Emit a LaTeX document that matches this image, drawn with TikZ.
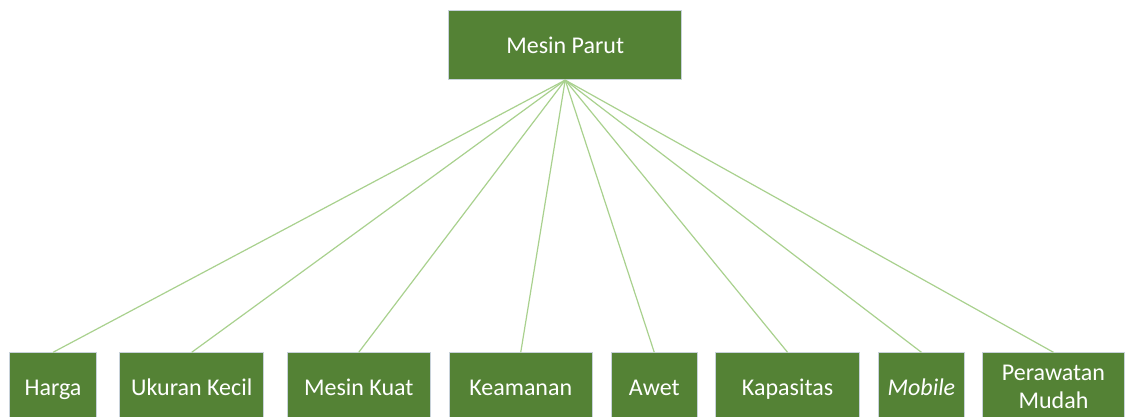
\documentclass[tikz,border=0pt]{standalone}
\usepackage{fontspec}
\setmainfont{Carlito}
\definecolor{boxgreen}{HTML}{548235}
\definecolor{linegreen}{HTML}{A9D18E}
\definecolor{boxedge}{HTML}{C8D2DA}
\begin{document}
\begin{tikzpicture}[x=1pt,y=-1pt,
  box/.style={draw=boxedge,line width=0.8pt,fill=boxgreen,text=white,
    inner sep=0pt,font=\fontsize{24}{28}\selectfont,align=center,anchor=north west,
    minimum height=69pt},
  one/.style={text height=16pt,text depth=0pt},
  link/.style={draw=linegreen,line width=1.2pt}]
\useasboundingbox (0,0) rectangle (1126,417);
\clip (0,0) rectangle (1126,417);
\fill[white] (0,0) rectangle (1126,417);
\node[box,one,minimum width=233pt] (top) at (448.3,10.3) {Mesin Parut};
\node[box,one,minimum width=86.7pt] (b1) at (9.3,352.3) {Harga};
\node[box,one,minimum width=144pt] (b2) at (119.3,352.3) {Ukuran Kecil};
\node[box,one,minimum width=143.3pt] (b3) at (286.7,352.3) {Mesin Kuat};
\node[box,one,minimum width=143.3pt] (b4) at (448.7,352.3) {Keamanan};
\node[box,one,minimum width=86.3pt] (b5) at (610.7,352.3) {Awet};
\node[box,one,minimum width=143.7pt] (b6) at (715.3,352.3) {Kapasitas};
\node[box,one,minimum width=86.6pt] (b7) at (877.7,352.3) {\itshape Mobile};
\node[box,minimum width=141.5pt] (b8) at (982.3,352.3) {Perawatan\\Mudah};
\foreach \n in {b1,b2,b3,b4,b5,b6,b7,b8}
  \draw[link] (top.south) -- (\n.north);
\end{tikzpicture}
\end{document}
